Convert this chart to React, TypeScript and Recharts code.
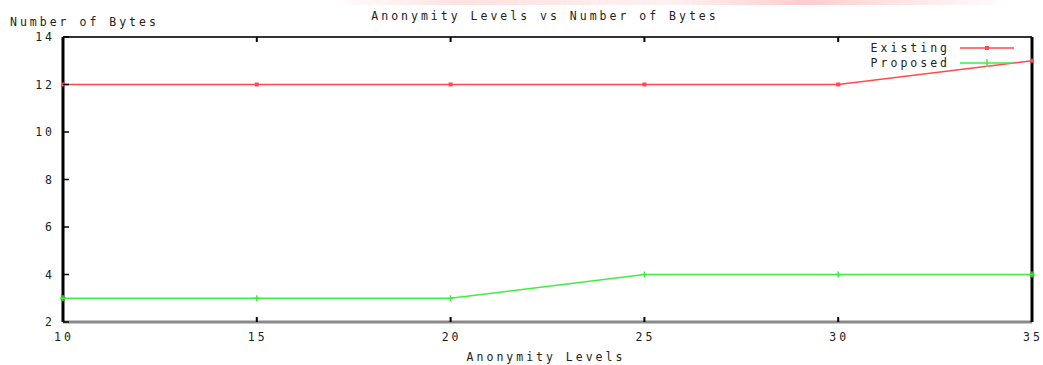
import {
  ComposedChart,
  Line,
  XAxis,
  YAxis,
} from "recharts";

const levels = [10, 15, 20, 25, 30, 35];
const existing = [12, 12, 12, 12, 12, 13];
const proposed = [3, 3, 3, 4, 4, 4];
const xTicks = [10, 15, 20, 25, 30, 35];
const yTicks = [2, 4, 6, 8, 10, 12, 14];

const RED = "#ff4a4a";
const GREEN = "#3cf03c";
const FONT = "'DejaVu Sans Mono', monospace";
const TXT = { fontFamily: FONT, fontSize: 11.5, letterSpacing: 3, fill: "#222" };

const data = levels.map((lv, i) => ({ level: lv, existing: existing[i], proposed: proposed[i] }));

function BottomTick(props: any) {
  const { x, y, payload } = props;
  return (
    <g>
      <line x1={x} x2={x} y1={y} y2={y - 5} stroke="#000" strokeWidth={2} />
      <text x={x + 1} y={y + 19} textAnchor="middle" style={TXT}>{payload.value}</text>
    </g>
  );
}

function TopTick(props: any) {
  const { x, y } = props;
  return <line x1={x} x2={x} y1={y} y2={y + 5} stroke="#000" strokeWidth={2} />;
}

function LeftTick(props: any) {
  const { x, y, payload } = props;
  return (
    <g>
      <line x1={x} x2={x + 6} y1={y} y2={y} stroke="#000" strokeWidth={1.5} />
      <text x={x - 8} y={y + 4} textAnchor="end" style={TXT}>{payload.value}</text>
    </g>
  );
}

function RightTick(props: any) {
  const { x, y } = props;
  return <line x1={x} x2={x - 6} y1={y} y2={y} stroke="#555" strokeWidth={1.5} />;
}

function SquareDot(props: any) {
  const { cx, cy, index } = props;
  return <rect key={index} x={cx - 2} y={cy - 2} width={4} height={4} fill={RED} />;
}

function PlusDot(props: any) {
  const { cx, cy, index } = props;
  return (
    <g key={index}>
      <line x1={cx - 3} x2={cx + 3} y1={cy} y2={cy} stroke={GREEN} strokeWidth={1.5} />
      <line x1={cx} x2={cx} y1={cy - 3} y2={cy + 3} stroke={GREEN} strokeWidth={1.5} />
    </g>
  );
}

function KeyBox() {
  const rows = [
    { name: "Existing", color: RED, mark: "sq" },
    { name: "Proposed", color: GREEN, mark: "plus" },
  ];
  return (
    <div>
      {rows.map((r) => (
        <div key={r.name} style={{ display: "flex", alignItems: "center", height: 15 }}>
          <span style={{ width: 128, textAlign: "right", fontFamily: FONT, fontSize: 11.5, letterSpacing: 3, color: "#222" }}>
            {r.name}
          </span>
          <svg width={62} height={15} style={{ marginLeft: 8 }}>
            <line x1={2} x2={56} y1={8} y2={8} stroke={r.color} strokeWidth={1.5} />
            {r.mark === "sq" ? (
              <rect x={27} y={6} width={4} height={4} fill={r.color} />
            ) : (
              <line x1={29} x2={29} y1={4} y2={12} stroke={r.color} strokeWidth={1.5} />
            )}
          </svg>
        </div>
      ))}
    </div>
  );
}

export default function App() {
  return (
    <div style={{ position: "absolute", left: 0, top: 0, width: 1043, height: 365, background: "#fff" }}>
      {/* faint pink smear at the top edge */}
      <div
        style={{
          position: "absolute",
          left: 330,
          top: 0,
          width: 680,
          height: 5,
          background: "linear-gradient(90deg, rgba(255,200,200,0) 0%, rgba(255,205,205,0.6) 20%, rgba(255,210,210,0.3) 50%, rgba(255,200,200,0.9) 70%, rgba(255,200,200,0) 100%)",
        }}
      />
      <svg width={1043} height={365} style={{ position: "absolute", left: 0, top: 0 }}>
        <text x={545} y={20} textAnchor="middle" style={TXT}>Anonymity Levels vs Number of Bytes</text>
        <text x={10} y={26} style={TXT}>Number of Bytes</text>
        <text x={546} y={361} textAnchor="middle" style={TXT}>Anonymity Levels</text>
      </svg>
      <ComposedChart
        width={1043}
        height={365}
        data={data}
        margin={{ top: 0, right: 0, bottom: 0, left: 0 }}
        style={{ position: "absolute", left: 0, top: 0 }}
      >
        <XAxis
          xAxisId="b"
          dataKey="level"
          type="number"
          domain={[10, 35]}
          ticks={xTicks}
          height={43}
          tickSize={0}
          tickMargin={0}
          tickLine={false}
          axisLine={{ stroke: "#8a8a8a", strokeWidth: 3 }}
          tick={<BottomTick />}
        />
        <XAxis
          xAxisId="t"
          orientation="top"
          dataKey="level"
          type="number"
          domain={[10, 35]}
          ticks={xTicks}
          height={37}
          tickSize={0}
          tickMargin={0}
          tickLine={false}
          axisLine={{ stroke: "#333", strokeWidth: 2 }}
          tick={<TopTick />}
        />
        <YAxis
          yAxisId="l"
          type="number"
          domain={[2, 14]}
          ticks={yTicks}
          width={63}
          tickSize={0}
          tickMargin={0}
          tickLine={false}
          axisLine={{ stroke: "#000", strokeWidth: 3 }}
          tick={<LeftTick />}
        />
        <YAxis
          yAxisId="r"
          orientation="right"
          type="number"
          domain={[2, 14]}
          ticks={yTicks}
          width={11}
          tickSize={0}
          tickMargin={0}
          tickLine={false}
          axisLine={{ stroke: "#000", strokeWidth: 3 }}
          tick={<RightTick />}
        />
        <Line
          xAxisId="b"
          yAxisId="l"
          dataKey="existing"
          name="Existing"
          type="linear"
          stroke={RED}
          strokeWidth={1.5}
          dot={<SquareDot />}
          activeDot={false}
          isAnimationActive={false}
        />
        <Line
          xAxisId="b"
          yAxisId="l"
          dataKey="proposed"
          name="Proposed"
          type="linear"
          stroke={GREEN}
          strokeWidth={1.5}
          dot={<PlusDot />}
          activeDot={false}
          isAnimationActive={false}
        />
      </ComposedChart>
      <div style={{ position: "absolute", left: 822, top: 40, width: 210 }}>
        <KeyBox />
      </div>
    </div>
  );
}
